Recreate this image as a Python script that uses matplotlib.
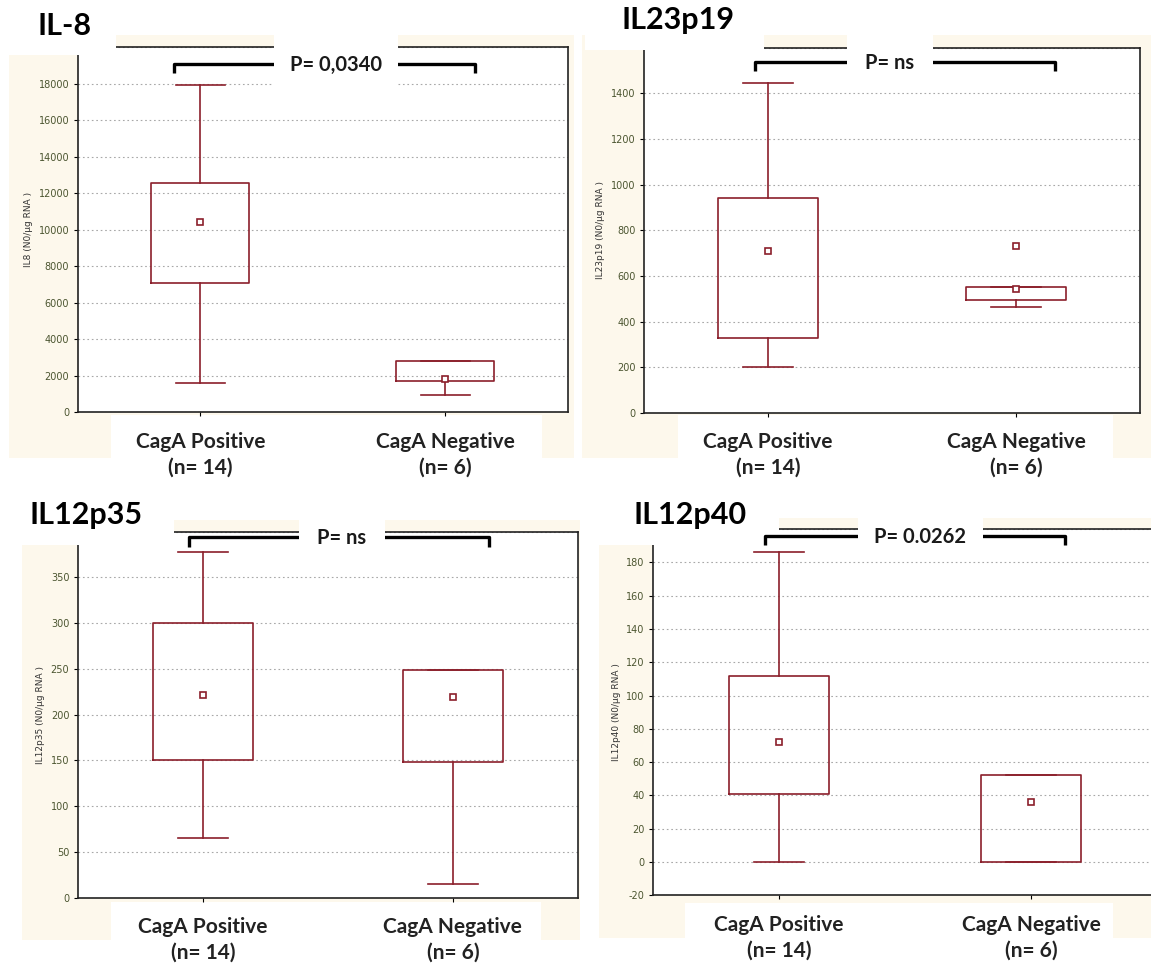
import matplotlib
matplotlib.use('Agg')
import matplotlib.pyplot as plt
from matplotlib.patches import Rectangle
from matplotlib.lines import Line2D
from matplotlib.ticker import MultipleLocator, FuncFormatter

W, H = 1151, 974

# data (Statistica box plots: median square, box 25-75 %, whiskers)
groups = ['CagA Positive\n(n= 14)', 'CagA Negative\n(n= 6)']
titles = ['IL-8', 'IL23p19', 'IL12p35', 'IL12p40']
ylabels = ['IL8 (N0/µg RNA )', 'IL23p19 (N0/µg RNA )',
           'IL12p35 (N0/µg RNA )', 'IL12p40 (N0/µg RNA )']
pvalues = ['P= 0,0340', 'P= ns', 'P= ns', 'P= 0.0262']

# each pair is [CagA positive, CagA negative]
medians = [[10440, 1850], [710, 541], [221, 219], [72, 36]]
q1 = [[7100, 1720], [330, 497], [150, 148], [41, 0]]
q3 = [[12580, 2820], [941, 553], [300, 249], [112, 52]]
whislo = [[1580, 920], [200, 464], [65, 15], [0, 0]]
whishi = [[17940, 2820], [1445, 553], [378, 249], [186, 52]]
outliers = [[[], []], [[], [731]], [[], []], [[], []]]
ylims = [(0, 20000), (0, 1600), (0, 400), (-20, 200)]
ysteps = [2000, 200, 50, 20]

# layout in image pixels
axes_px = [(77.7, 47, 568, 412.3), (644, 47.7, 1140, 413),
           (77.7, 531.7, 578, 897.7), (653, 529, 1157, 895.3)]
cream_px = [(9, 35, 574, 458), (582, 35, 1151, 458),
            (22, 520, 580, 940), (599, 518, 1151, 938)]
labelbox_px = [(111, 415, 542, 474), (678, 415, 1113, 474),
               (111, 902, 541, 974), (685, 903, 1113, 974)]
titlebox_px = [(0, 0, 116, 55), (585, 0, 764, 50),
               (0, 480, 174, 545), (585, 480, 779, 545)]
title_pos = [(38, 35), (621, 29), (29, 524), (633, 524)]
pbox_px = [(274, 27, 398, 88), (847, 27, 933, 80),
           (299, 512, 385, 560), (858, 512, 983, 560)]
bracket_px = [(174, 475, 64, 73), (755, 1055, 62, 71),
              (189, 489, 537, 547), (765, 1065, 536, 545)]

red = '#8b1f2b'
cream = '#fdf8ec'
tickcol = '#4b5530'

fig = plt.figure(figsize=(W / 100, H / 100), dpi=100)
fig.patch.set_facecolor('white')


def rect(box, color, z):
    x0, y0, x1, y1 = box
    fig.add_artist(Rectangle((x0 / W, 1 - y1 / H), (x1 - x0) / W, (y1 - y0) / H,
                             transform=fig.transFigure, facecolor=color,
                             edgecolor='none', zorder=z))


def line(xs, ys, z=1.5):
    fig.add_artist(Line2D([x / W for x in xs], [1 - y / H for y in ys],
                          transform=fig.transFigure, color='black', lw=2.4,
                          solid_capstyle='butt', zorder=z))


for i in range(4):
    rect(cream_px[i], cream, -2)
    rect(labelbox_px[i], 'white', -1)

    l, t, r, b = axes_px[i]
    ax = fig.add_axes([l / W, 1 - b / H, (r - l) / W, (b - t) / H])
    ax.set_facecolor('white')

    stats = []
    for j in range(2):
        # the median is drawn as the small square marker (via the mean slot)
        stats.append(dict(med=medians[i][j], mean=medians[i][j],
                          q1=q1[i][j], q3=q3[i][j],
                          whislo=whislo[i][j], whishi=whishi[i][j],
                          fliers=outliers[i][j]))
    sq = dict(marker='s', markersize=4.5, markerfacecolor='white',
              markeredgecolor=red, markeredgewidth=1.2, linestyle='none')
    ax.bxp(stats, positions=[1, 2], widths=0.4, capwidths=0.2,
           showmeans=True, meanline=False,
           boxprops=dict(color=red, lw=1.2),
           whiskerprops=dict(color=red, lw=1.2),
           capprops=dict(color=red, lw=1.2),
           medianprops=dict(lw=0),
           meanprops=sq, flierprops=sq)

    ax.set_xlim(0.5, 2.5)
    ax.set_ylim(*ylims[i])
    ax.yaxis.set_major_locator(MultipleLocator(ysteps[i]))
    top = ylims[i][1]
    ax.yaxis.set_major_formatter(FuncFormatter(
        lambda v, p, top=top: '' if v >= top else f'{v:.0f}'))
    ax.set_xticks([1, 2])
    ax.set_xticklabels(groups, fontfamily='Lato', fontweight='bold',
                       fontsize=15, color='#222222', linespacing=1.35)
    ax.tick_params(axis='x', length=3, pad=11)
    ax.tick_params(axis='y', length=3, labelsize=7, labelcolor=tickcol, pad=3)
    ax.yaxis.grid(True, linestyle=(0, (1.5, 2.5)), color='#a8a8a8', lw=0.8)
    ax.set_axisbelow(True)
    for s in ax.spines.values():
        s.set_linewidth(1.2)
        s.set_color('#222222')
    ax.set_ylabel(ylabels[i], fontsize=6.5, color='#333333', labelpad=4)

    rect(titlebox_px[i], 'white', 1)
    tx, ty = title_pos[i]
    fig.text(tx / W, 1 - ty / H, titles[i], fontfamily='Lato', fontweight='bold',
             fontsize=22, va='baseline', ha='left', zorder=3)

    bx0, bx1, by, bt = bracket_px[i]
    line([bx0, bx0, bx1, bx1], [bt, by, by, bt])
    rect(pbox_px[i], 'white', 2)
    px0, py0, px1, py1 = pbox_px[i]
    fig.text((px0 + px1) / 2 / W, 1 - (by + 1) / H, pvalues[i],
             fontfamily='Lato', fontweight='bold', fontsize=14.5,
             ha='center', va='center', color='#1a1a1a', zorder=3)

fig.savefig('out.png', dpi=100)
